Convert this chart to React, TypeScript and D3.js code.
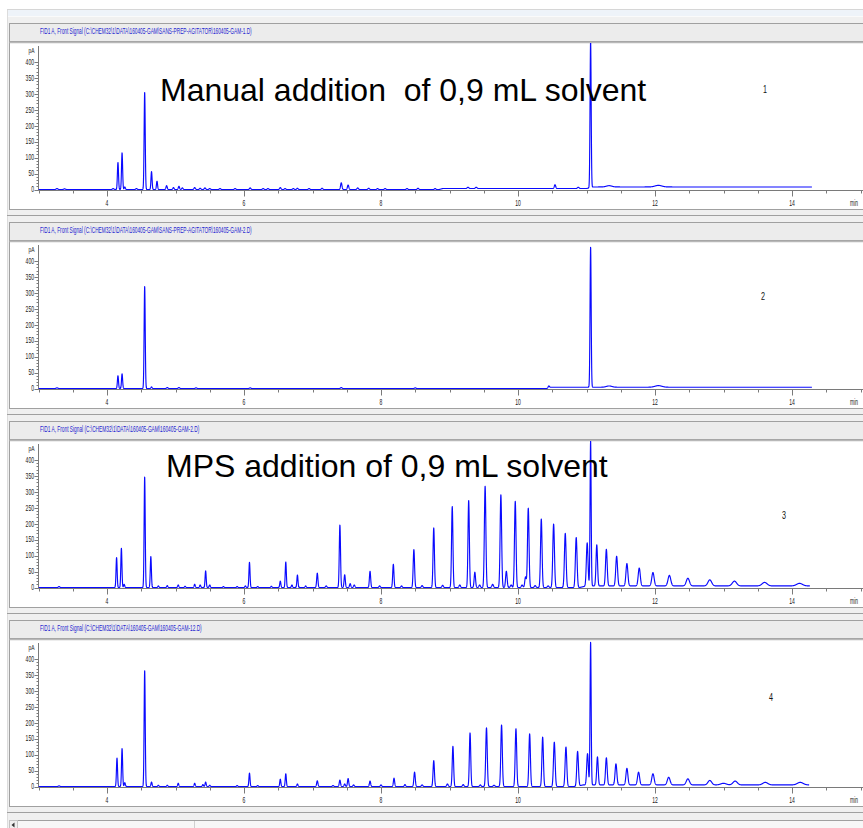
import React, { useMemo } from "react";
import * as d3 from "d3";

// Overlay of four FID runs: manual vs. MPS solvent addition
const WIDTH = 863;
const HEIGHT = 828;
const PITCH = 199;

const runFiles = [
  "FID1 A, Front Signal (C:\\CHEM32\\1\\DATA\\160405-GAM\\SANS-PREP-AGITATOR\\160405-GAM-1.D)",
  "FID1 A, Front Signal (C:\\CHEM32\\1\\DATA\\160405-GAM\\SANS-PREP-AGITATOR\\160405-GAM-2.D)",
  "FID1 A, Front Signal (C:\\CHEM32\\1\\DATA\\160405-GAM\\160405-GAM-2.D)",
  "FID1 A, Front Signal (C:\\CHEM32\\1\\DATA\\160405-GAM\\160405-GAM-12.D)",
];
const runLabels = ["1", "2", "3", "4"];
const runEnds = [14.29, 14.29, 14.26, 14.25];

const yLabelTicks = [0, 50, 100, 150, 200, 250, 300, 350, 400];
const yMinorTicks = d3.range(0, 401, 10);
const xLabelTicks = [4, 6, 8, 10, 12, 14];
const xMinorTicks = d3.range(3, 15.51, 0.5);
const yUnit = "pA";
const xUnit = "min";

const manualTitle = "Manual addition  of 0,9 mL solvent";
const mpsTitle = "MPS addition of 0,9 mL solvent";

// Peaks: [retention time (min), height (pA), sigma (min)]
const run1Peaks: [number, number, number][] = [
  [3.27, 3, 0.012], [3.38, 2, 0.012], [4.09, 3, 0.01], [4.16, 85, 0.008], [4.22, 115, 0.008],
  [4.26, 8, 0.008], [4.43, 3, 0.01], [4.55, 305, 0.008], [4.65, 56, 0.008], [4.73, 26, 0.008],
  [4.87, 12, 0.009], [4.97, 6, 0.009], [5.05, 10, 0.009], [5.1, 5, 0.009], [5.28, 6, 0.01],
  [5.36, 4, 0.01], [5.43, 5, 0.01], [5.5, 3, 0.01], [5.65, 3, 0.01], [5.87, 3, 0.01],
  [6.09, 5, 0.01], [6.28, 3, 0.01], [6.35, 3, 0.01], [6.53, 6, 0.01], [6.6, 3, 0.01],
  [6.72, 3, 0.01], [6.78, 4, 0.01], [6.95, 3, 0.01], [7.14, 4, 0.01], [7.42, 21, 0.01],
  [7.52, 14, 0.01], [7.66, 5, 0.01], [7.82, 4, 0.01], [7.95, 3, 0.01], [8.06, 3, 0.01],
  [8.38, 3, 0.01], [8.54, 4, 0.01], [8.79, 3, 0.01], [9.27, 4, 0.012], [9.39, 4, 0.012],
  [10.54, 12, 0.01], [10.88, 4, 0.012], [11.06, 460, 0.008], [11.33, 4, 0.04], [12.05, 5, 0.05],
];
const run1BaseTimes = [3, 8.85, 8.9, 11.0, 11.1, 14.29];
const run1BaseLevels = [0, 0, 3, 3, 8, 8];

const run2Peaks: [number, number, number][] = [
  [3.27, 2, 0.012], [4.16, 40, 0.008], [4.22, 46, 0.008], [4.55, 320, 0.008], [4.65, 5, 0.008],
  [4.88, 3, 0.01], [5.05, 3, 0.01], [5.3, 2, 0.01], [6.09, 2, 0.01], [7.42, 3, 0.01],
  [8.5, 2, 0.01], [10.45, 6, 0.01], [11.06, 440, 0.008], [11.33, 4, 0.04], [12.05, 5, 0.05],
];
const run2BaseTimes = [3, 10.42, 10.48, 14.29];
const run2BaseLevels = [0, 0, 4, 4];

const run3Peaks: [number, number, number][] = [
  [3.3, 3, 0.01], [4.14, 94, 0.008], [4.21, 123, 0.008], [4.25, 10, 0.008], [4.55, 347, 0.008],
  [4.64, 97, 0.008], [4.75, 5, 0.008], [4.88, 6, 0.008], [5.04, 8, 0.008], [5.14, 4, 0.008],
  [5.28, 10, 0.008], [5.36, 8, 0.008], [5.44, 52, 0.008], [5.5, 8, 0.008], [5.7, 3, 0.008],
  [5.9, 3, 0.008], [6.02, 5, 0.008], [6.08, 79, 0.008], [6.2, 3, 0.008], [6.4, 4, 0.008],
  [6.53, 20, 0.008], [6.61, 80, 0.008], [6.7, 8, 0.008], [6.78, 39, 0.008], [6.9, 5, 0.008],
  [7.07, 45, 0.009], [7.2, 5, 0.009], [7.4, 196, 0.009], [7.47, 40, 0.009], [7.55, 12, 0.009],
  [7.61, 8, 0.009], [7.84, 51, 0.009], [7.98, 5, 0.009], [8.18, 73, 0.009], [8.3, 5, 0.009],
  [8.48, 119, 0.01], [8.6, 6, 0.01], [8.77, 187, 0.01], [8.9, 7, 0.01], [9.04, 254, 0.01],
  [9.15, 8, 0.01], [9.28, 273, 0.01], [9.37, 48, 0.01], [9.44, 8, 0.01], [9.52, 318, 0.011],
  [9.63, 10, 0.011], [9.75, 291, 0.011], [9.83, 51, 0.011], [9.9, 8, 0.011], [9.96, 270, 0.011],
  [10.06, 8, 0.011], [10.11, 33, 0.011], [10.15, 249, 0.011], [10.25, 6, 0.011], [10.34, 215, 0.011],
  [10.44, 5, 0.011], [10.52, 199, 0.012], [10.69, 170, 0.012], [10.85, 157, 0.012], [11.01, 135, 0.012],
  [11.06, 455, 0.008], [11.15, 129, 0.011], [11.29, 115, 0.012], [11.44, 93, 0.013], [11.59, 70, 0.014],
  [11.77, 56, 0.015], [11.97, 42, 0.017], [12.21, 33, 0.02], [12.48, 24, 0.023], [12.8, 19, 0.027],
  [13.16, 15, 0.031], [13.6, 11, 0.036], [14.11, 8, 0.042],
];
const run3BaseTimes = [3, 10.9, 11.0, 14.26];
const run3BaseLevels = [0, 0, 5, 5];

const run4Peaks: [number, number, number][] = [
  [3.3, 2, 0.01], [4.146, 89, 0.008], [4.22, 119, 0.008], [4.26, 12, 0.008], [4.55, 364, 0.008],
  [4.65, 14, 0.008], [4.75, 4, 0.008], [4.88, 4, 0.008], [5.04, 10, 0.008], [5.28, 10, 0.008],
  [5.4, 6, 0.008], [5.44, 14, 0.008], [5.5, 4, 0.008], [5.9, 3, 0.008], [6.08, 42, 0.008],
  [6.2, 3, 0.008], [6.53, 23, 0.008], [6.61, 40, 0.008], [6.78, 8, 0.008], [7.07, 18, 0.009],
  [7.3, 3, 0.009], [7.4, 20, 0.009], [7.47, 8, 0.009], [7.52, 25, 0.009], [7.6, 5, 0.009],
  [7.84, 17, 0.009], [8.0, 5, 0.009], [8.19, 26, 0.009], [8.35, 6, 0.009], [8.49, 45, 0.01],
  [8.6, 5, 0.01], [8.77, 81, 0.01], [8.97, 8, 0.01], [9.05, 126, 0.01], [9.2, 6, 0.01],
  [9.3, 168, 0.01], [9.45, 5, 0.01], [9.54, 184, 0.011], [9.65, 4, 0.011], [9.76, 193, 0.011],
  [9.97, 181, 0.011], [10.17, 165, 0.011], [10.36, 155, 0.011], [10.53, 139, 0.012], [10.7, 124, 0.012],
  [10.87, 109, 0.012], [11.015, 98, 0.012], [11.06, 448, 0.008], [11.16, 88, 0.011], [11.29, 85, 0.012],
  [11.43, 66, 0.013], [11.59, 52, 0.014], [11.76, 40, 0.015], [11.97, 35, 0.017], [12.2, 24, 0.02],
  [12.48, 19, 0.023], [12.8, 14, 0.027], [13.0, 5, 0.04], [13.17, 12, 0.031], [13.61, 8, 0.036],
  [14.12, 8, 0.042],
];
const run4BaseTimes = [3, 10.85, 10.95, 14.25];
const run4BaseLevels = [0, 0, 5, 5];

const runPeaks = [run1Peaks, run2Peaks, run3Peaks, run4Peaks];
const runBaseTimes = [run1BaseTimes, run2BaseTimes, run3BaseTimes, run4BaseTimes];
const runBaseLevels = [run1BaseLevels, run2BaseLevels, run3BaseLevels, run4BaseLevels];

const TRACE = "#0a0aff";
const FRAME = "#f0f0f0";
const EDGE = "#a0a0a0";
const AXIS = "#7a7a7a";
const TICK_FONT = "'Liberation Sans', Arial, sans-serif";

function buildSignal(
  peaks: [number, number, number][],
  baseT: number[],
  baseV: number[],
  start: number,
  end: number
): [number, number][] {
  const base = d3.scaleLinear().domain(baseT).range(baseV).clamp(true);
  const step = 0.0015;
  const n = Math.round((end - start) / step);
  const pts: [number, number][] = [];
  for (let i = 0; i <= n; i++) {
    const t = start + i * step;
    let v = base(t);
    for (const [rt, h, s] of peaks) {
      const d = (t - rt) / s;
      if (d > -6 && d < 6) v += h * Math.exp(-0.5 * d * d);
    }
    pts.push([t, v]);
  }
  return pts;
}

function Panel({ index }: { index: number }) {
  const off = index * PITCH;
  const x = d3.scaleLinear().domain([4, 14]).range([107, 792]);
  const y = d3.scaleLinear().domain([0, 400]).range([189.5 + off, 62 + off]);
  const axisY = 190.5 + off;
  const axisX = 38.5;

  const path = useMemo(() => {
    const pts = buildSignal(runPeaks[index], runBaseTimes[index], runBaseLevels[index], 3.0, runEnds[index]);
    const line = d3
      .line<[number, number]>()
      .x((d) => x(d[0]))
      .y((d) => y(d[1]));
    return line(pts) || "";
  }, [index]);

  const header = runFiles[index];
  const headerLen = header.length * (index < 2 ? 2.52 : 2.45);

  return (
    <g>
      {/* header strip */}
      <rect x={9.5} y={23.5 + off} width={900} height={18} fill="#ececec" stroke={EDGE} strokeWidth={1} />
      <text
        x={40}
        y={33.5 + off}
        fontFamily={TICK_FONT}
        fontSize={8.5}
        fill="#2424d0"
        textLength={headerLen}
        lengthAdjust="spacingAndGlyphs"
      >
        {header}
      </text>

      {/* plot box */}
      <rect x={9.5} y={42 + off} width={900} height={167.5} fill="#ffffff" stroke={EDGE} strokeWidth={1} />
      <line x1={9.5} x2={909} y1={42.5 + off} y2={42.5 + off} stroke="#b8b8b8" strokeWidth={1.5} />

      {/* y axis */}
      <line x1={axisX} x2={axisX} y1={46 + off} y2={axisY} stroke={AXIS} strokeWidth={1} />
      {yMinorTicks.map((v) => (
        <line key={`ym${v}`} x1={axisX - 2} x2={axisX} y1={Math.round(y(v)) + 0.5} y2={Math.round(y(v)) + 0.5} stroke={AXIS} strokeWidth={1} />
      ))}
      {yLabelTicks.map((v) => (
        <g key={`yl${v}`}>
          <line x1={axisX - 4} x2={axisX} y1={Math.round(y(v)) + 0.5} y2={Math.round(y(v)) + 0.5} stroke={AXIS} strokeWidth={1} />
          <text
            x={34}
            y={y(v) + 2.8}
            textAnchor="end"
            fontFamily={TICK_FONT}
            fontSize={8.5}
            fill="#1a1a1a"
            textLength={String(v).length * 2.8}
            lengthAdjust="spacingAndGlyphs"
          >
            {v}
          </text>
        </g>
      ))}
      <text
        x={34.5}
        y={52.5 + off}
        textAnchor="end"
        fontFamily={TICK_FONT}
        fontSize={8}
        fill="#1a1a1a"
        textLength={6}
        lengthAdjust="spacingAndGlyphs"
      >
        {yUnit}
      </text>

      {/* x axis */}
      <line x1={axisX} x2={WIDTH + 10} y1={axisY} y2={axisY} stroke={AXIS} strokeWidth={1} />
      {xMinorTicks.map((t) => {
        const major = xLabelTicks.includes(t);
        const px = Math.round(x(t)) + 0.5;
        return <line key={`xm${t}`} x1={px} x2={px} y1={axisY} y2={axisY + (major ? 6 : 3)} stroke={AXIS} strokeWidth={1} />;
      })}
      {xLabelTicks.map((t) => (
        <text
          key={`xl${t}`}
          x={x(t)}
          y={205.5 + off}
          textAnchor="middle"
          fontFamily={TICK_FONT}
          fontSize={8.5}
          fill="#1a1a1a"
          textLength={String(t).length * 2.8}
          lengthAdjust="spacingAndGlyphs"
        >
          {t}
        </text>
      ))}
      <text
        x={850}
        y={205.5 + off}
        fontFamily={TICK_FONT}
        fontSize={8.5}
        fill="#1a1a1a"
        textLength={8}
        lengthAdjust="spacingAndGlyphs"
      >
        {xUnit}
      </text>

      {/* signal */}
      <clipPath id={`clip${index}`}>
        <rect x={axisX} y={43 + off} width={WIDTH} height={150} />
      </clipPath>
      <path d={path} fill="none" stroke={TRACE} strokeWidth={1.15} strokeLinejoin="round" clipPath={`url(#clip${index})`} />

      {/* run number */}
      <text
        x={[765, 763, 784, 771][index]}
        y={[93, 300, 519, 701][index]}
        textAnchor="middle"
        fontFamily="'Liberation Sans Narrow', 'Liberation Sans', sans-serif"
        fontSize={11}
        fill="#111"
        textLength={4}
        lengthAdjust="spacingAndGlyphs"
      >
        {runLabels[index]}
      </text>

      {/* separator below panel */}
      <line x1={7} x2={WIDTH + 10} y1={215.5 + off} y2={215.5 + off} stroke={EDGE} strokeWidth={1} />
    </g>
  );
}

export default function App() {
  return (
    <svg
      width={WIDTH}
      height={HEIGHT}
      viewBox={`0 0 ${WIDTH} ${HEIGHT}`}
      style={{ position: "absolute", left: 0, top: 0, display: "block" }}
    >
      <rect x={0} y={0} width={WIDTH} height={HEIGHT} fill="#ffffff" />
      {/* window frame */}
      <rect x={7} y={10} width={WIDTH} height={HEIGHT} fill={FRAME} />
      <line x1={7} x2={WIDTH} y1={9.5} y2={9.5} stroke="#d6d6d6" />
      <rect x={7} y={10} width={WIDTH} height={6} fill="#eef3f9" />
      <line x1={7} x2={WIDTH} y1={16.5} y2={16.5} stroke="#fafafa" />
      <line x1={7.5} x2={7.5} y1={10} y2={HEIGHT} stroke="#dcdcdc" />

      {[0, 1, 2, 3].map((i) => (
        <Panel key={i} index={i} />
      ))}

      {/* annotations */}
      <text
        x={160}
        y={101}
        fontFamily="'Liberation Sans', Arial, sans-serif"
        fontSize={32}
        fill="#000"
        style={{ whiteSpace: "pre" }}
      >
        {manualTitle}
      </text>
      <text x={166} y={477} fontFamily="'Liberation Sans', Arial, sans-serif" fontSize={32} fill="#000">
        {mpsTitle}
      </text>

      {/* bottom scroll bar */}
      <rect x={9.5} y={820.5} width={900} height={12} fill="#f7f7f7" stroke={EDGE} />
      <rect x={9.5} y={820.5} width={8} height={12} fill="#efefef" stroke="#c4c4c4" />
      <path d="M11.5,825 L14.5,822.5 L14.5,827.5 Z" fill="#333" />
      <line x1={194.5} x2={194.5} y1={821} y2={HEIGHT} stroke="#d0d0d0" />
    </svg>
  );
}
